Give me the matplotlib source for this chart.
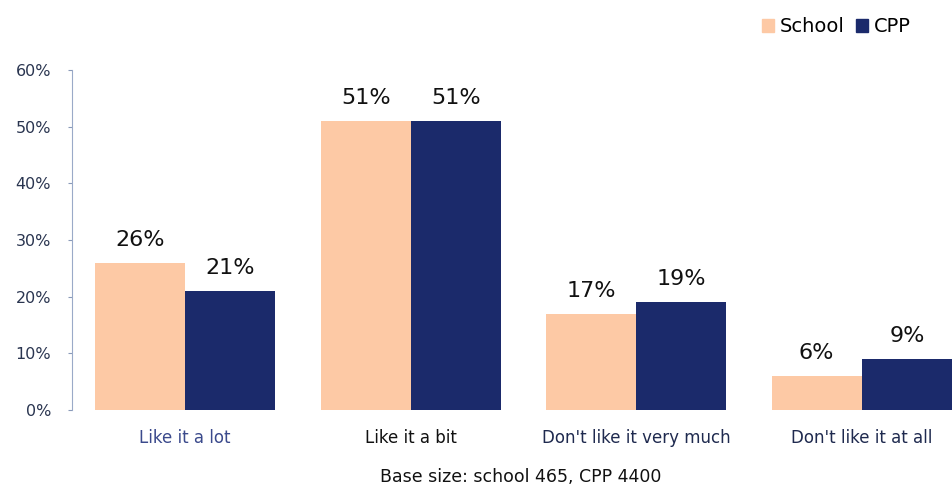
import numpy as np
import matplotlib
matplotlib.use("Agg")
import matplotlib.pyplot as plt
from matplotlib.patches import Patch

categories = ["Like it a lot", "Like it a bit", "Don't like it very much", "Don't like it at all"]
school = [26, 51, 17, 6]
cpp = [21, 51, 19, 9]
yticks = [0, 10, 20, 30, 40, 50, 60]
cat_colors = ["#3b4a8c", "#111111", "#1f2a4f", "#1f2a4f"]

school_color = "#fdc9a5"
cpp_color = "#1b2a6b"

fig = plt.figure(figsize=(9.52, 4.88), dpi=100)
ax = fig.add_axes([72 / 952, 1 - 410 / 488, 1 - 72 / 952, (410 - 70) / 488])

x = np.arange(len(categories))
w = 0.4
ax.bar(x - w / 2, school, w, color=school_color, label="School")
ax.bar(x + w / 2, cpp, w, color=cpp_color, label="CPP")

for xi, v in zip(x, school):
    ax.text(xi - w / 2, v + 2.3, f"{v}%", ha="center", va="bottom", fontsize=16, color="#111111")
for xi, v in zip(x, cpp):
    ax.text(xi + w / 2, v + 2.3, f"{v}%", ha="center", va="bottom", fontsize=16, color="#111111")

ax.set_xlim(-0.502, 3.4)
ax.set_ylim(0, 60)
ax.set_yticks(yticks)
ax.set_yticklabels([f"{t}%" for t in yticks], fontsize=11.5, color="#2a3550")
ax.tick_params(axis="y", length=3, color="#8a9ab8", pad=12)
ax.set_xticks(x)
ax.set_xticklabels(categories, fontsize=12)
for lbl, c in zip(ax.get_xticklabels(), cat_colors):
    lbl.set_color(c)
ax.tick_params(axis="x", length=0, pad=14)

for s in ["top", "right", "bottom"]:
    ax.spines[s].set_visible(False)
ax.spines["left"].set_color("#9aaac8")

fig.text(521 / 952, 1 - 477 / 488, "Base size: school 465, CPP 4400", ha="center", va="center",
         fontsize=12.5, color="#111111")

handles = [Patch(color=school_color, label="School"), Patch(color=cpp_color, label="CPP")]
fig.legend(handles=handles, loc="upper right", bbox_to_anchor=(0.975, 1.0), ncol=2, frameon=False,
           fontsize=14, handlelength=0.6, handleheight=0.6, handletextpad=0.3, columnspacing=0.6)

fig.savefig("out.png", dpi=100)
